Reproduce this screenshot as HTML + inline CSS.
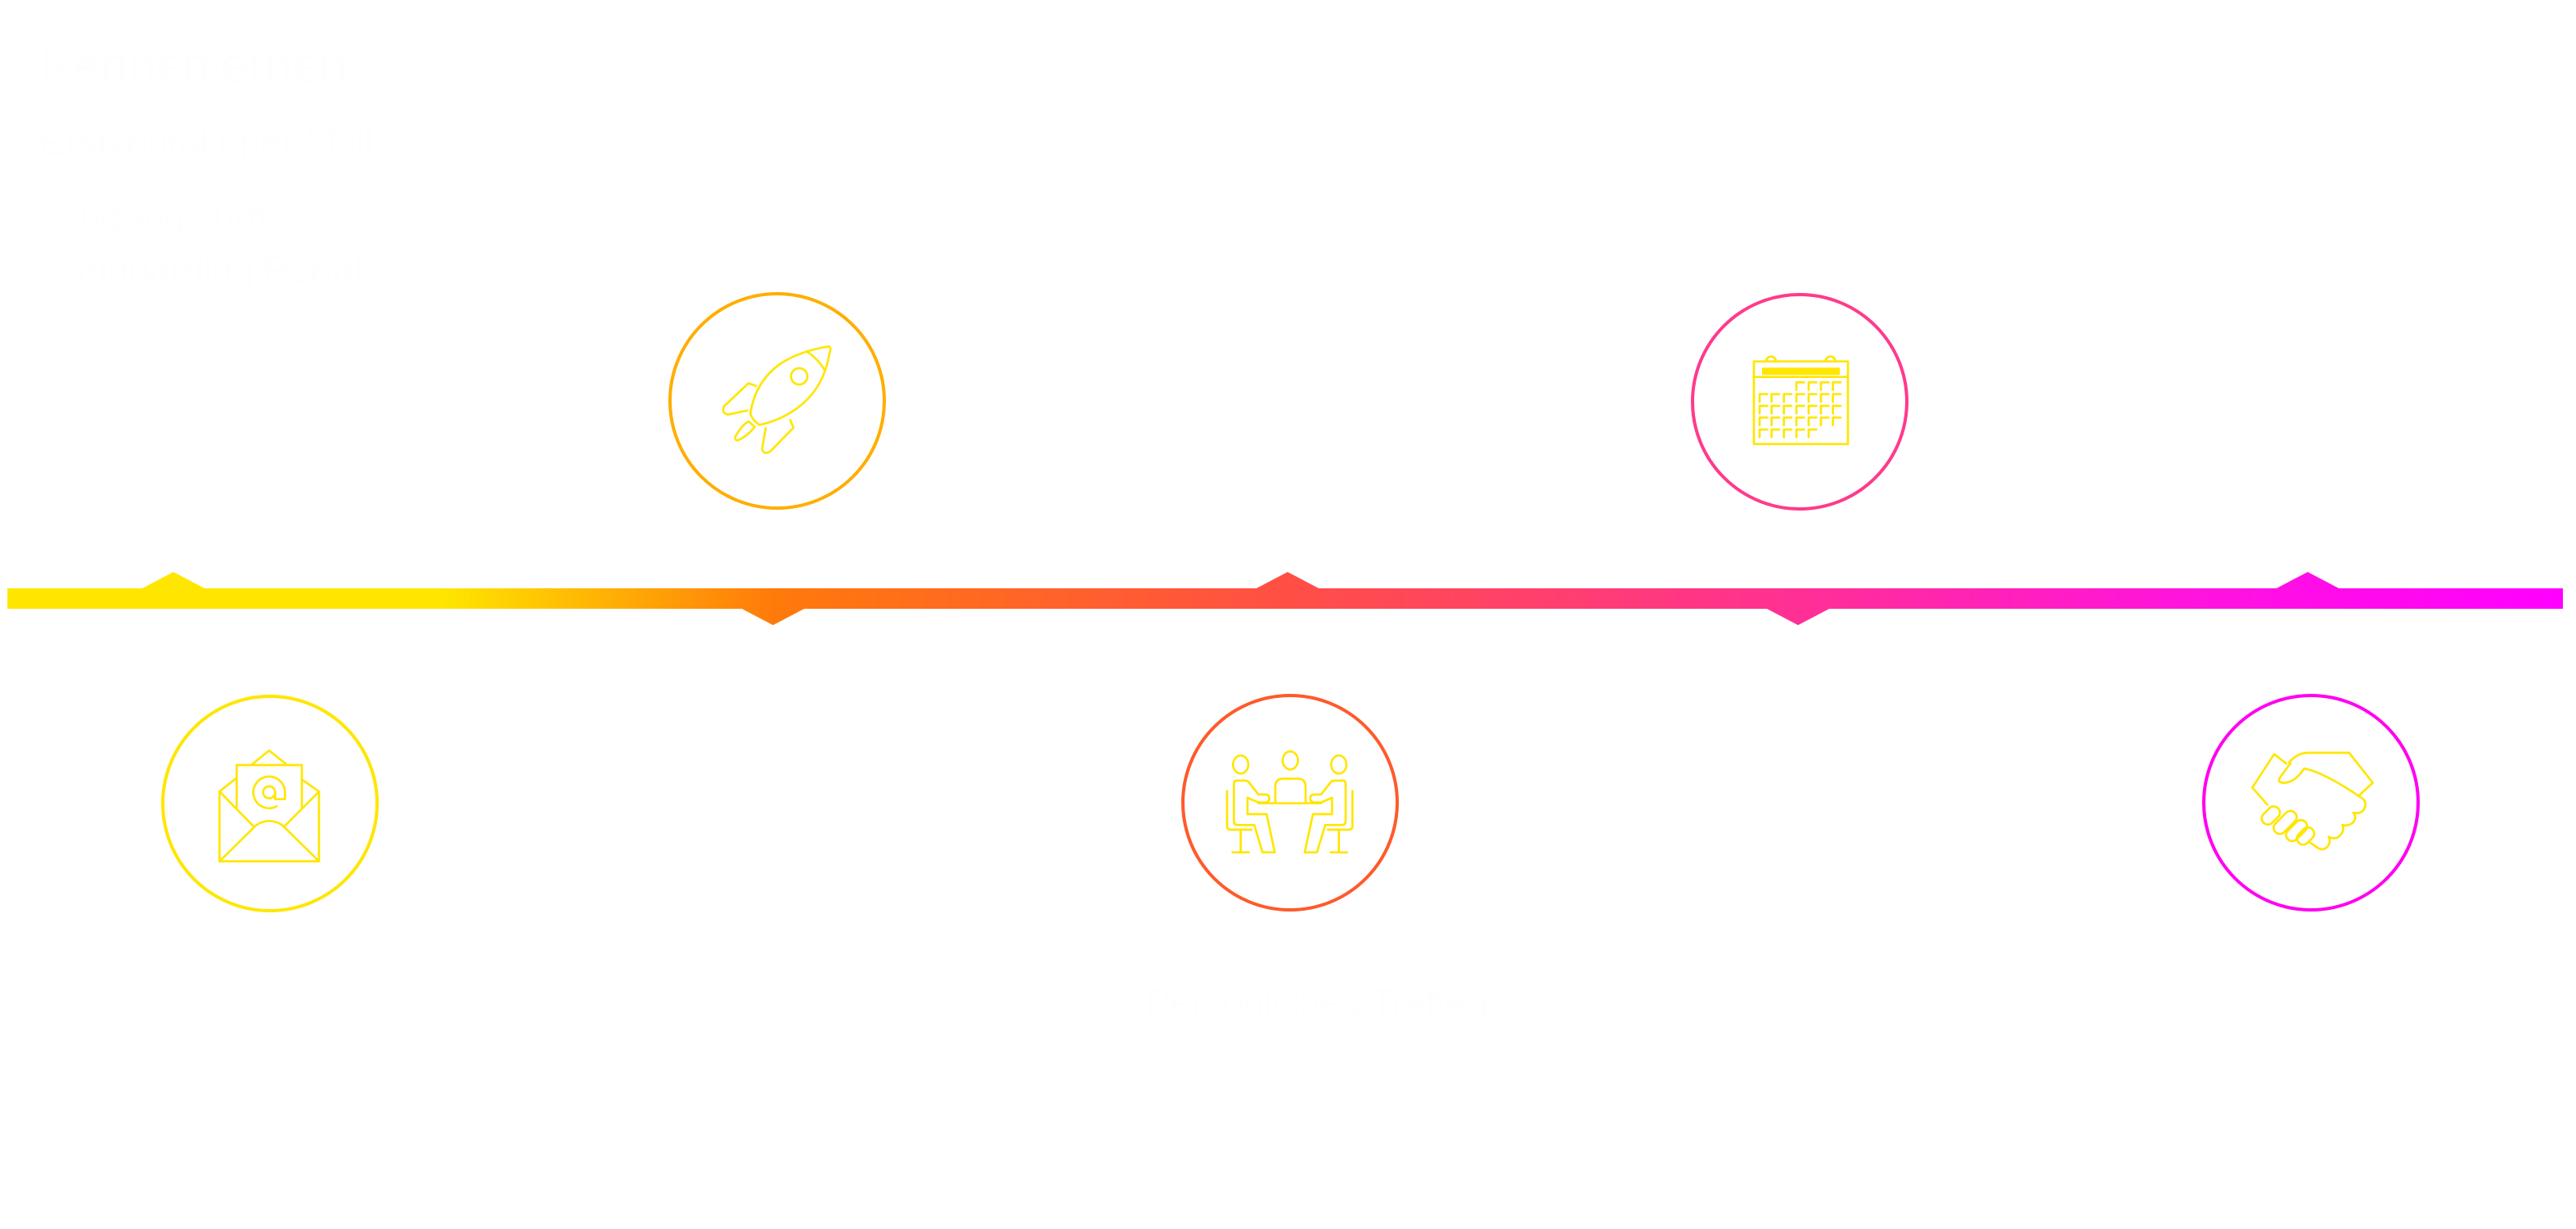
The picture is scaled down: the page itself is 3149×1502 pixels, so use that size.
<!DOCTYPE html>
<html><head><meta charset="utf-8"><style>
html,body{margin:0;padding:0;background:#fff;width:3149px;height:1502px;overflow:hidden}
svg{display:block}
.i{fill:none;stroke:#FFE600;stroke-width:8;stroke-linejoin:round;stroke-linecap:round}
</style></head><body>
<svg width="3149" height="1502" viewBox="0 0 3149 1502" xmlns="http://www.w3.org/2000/svg">
<defs>
<linearGradient id="g" x1="9" y1="0" x2="3133" y2="0" gradientUnits="userSpaceOnUse">
<stop offset="0" stop-color="#FFE600"/>
<stop offset="0.17" stop-color="#FFE600"/>
<stop offset="0.3" stop-color="#FF7A0A"/>
<stop offset="0.5" stop-color="#FF4F45"/>
<stop offset="0.7" stop-color="#FF3094"/>
<stop offset="0.85" stop-color="#FF14DC"/>
<stop offset="1" stop-color="#FF00FF"/>
</linearGradient>
</defs>
<g fill="url(#g)">
<rect x="9" y="719" width="3124" height="25"/>
<polygon points="172,720 212,699 252,720"/>
<polygon points="1534,720 1574,699 1614,720"/>
<polygon points="2781,720 2821,699 2861,720"/>
<polygon points="905,743 945,764 985,743"/>
<polygon points="2158,743 2198,764 2238,743"/>
</g>
<g fill="none" stroke-width="4">
<circle cx="950" cy="490" r="131" stroke="#FFAE00"/>
<circle cx="2200" cy="491" r="131" stroke="#FF3A8C"/>
<circle cx="330" cy="982" r="131" stroke="#FFE600"/>
<circle cx="1577" cy="981" r="131" stroke="#FF5A2A"/>
<circle cx="2825" cy="981" r="131" stroke="#FF00F0"/>
</g>
<!-- rocket -->
<g transform="translate(800,340) scale(0.3333)" class="i">
<path d="M385,538 Q355,515 352,495 Q370,380 460,315 Q530,268 640,250 Q650,255 642,275 Q625,380 560,445 Q490,515 385,538 Z"/>
<path d="M558,268 Q600,295 625,338"/>
<circle cx="531" cy="360" r="30"/>
<path d="M372,395 L345,385 L255,470 Q245,495 270,500 L340,485"/>
<path d="M498,520 L510,548 L425,635 Q400,650 395,625 L408,550"/>
<path d="M345,525 L368,545 Q340,580 305,595 Q290,592 300,575 Q320,540 345,525 Z"/>
</g>
<!-- email -->
<g transform="translate(180,830) scale(0.3333)" class="i">
<path d="M265,412 L265,668 L630,668 L630,412"/>
<path d="M265,412 L328,362 M630,412 L567,368 M385,312 L447,262 L510,312"/>
<path d="M328,470 L328,315 L567,315 L567,470"/>
<path d="M265,412 L390,540 M630,412 L503,540"/>
<path d="M265,668 L400,535 Q447,505 495,535 L630,668"/>
<circle cx="447" cy="415" r="22"/>
<path d="M469,415 L469,440 L505,440 L505,415 A58,58 0 1 0 475,466"/>
</g>
<!-- calendar -->
<g transform="translate(2050,360) scale(0.3333)">
<g class="i">
<rect x="282" y="245" width="345" height="303"/>
<path d="M282,302 L627,302"/>
<path d="M327,245 A18,18 0 0 1 363,245 M545,245 A18,18 0 0 1 581,245"/>
<path d="M438,350 L438,322 L466,322 M483,350 L483,322 L511,322 M528,350 L528,322 L556,322 M572,350 L572,322 L600,322"/>
<path d="M303,393 L303,365 L331,365 M347,393 L347,365 L375,365 M392,393 L392,365 L420,365 M438,393 L438,365 L466,365 M483,393 L483,365 L511,365 M528,393 L528,365 L556,365 M572,393 L572,365 L600,365"/>
<path d="M303,436 L303,408 L331,408 M347,436 L347,408 L375,408 M392,436 L392,408 L420,408 M438,436 L438,408 L466,408 M483,436 L483,408 L511,408 M528,436 L528,408 L556,408 M572,436 L572,408 L600,408"/>
<path d="M303,479 L303,451 L331,451 M347,479 L347,451 L375,451 M392,479 L392,451 L420,451 M438,479 L438,451 L466,451 M483,479 L483,451 L511,451 M528,479 L528,451 L556,451 M572,479 L572,451 L600,451"/>
<path d="M303,523 L303,495 L331,495 M347,523 L347,495 L375,495 M392,523 L392,495 L420,495 M438,523 L438,495 L466,495 M483,523 L483,495 L511,495"/>
</g>
<rect x="312" y="268" width="285" height="27" fill="#FFE600"/>
</g>
<!-- people -->
<g transform="translate(1480,900) scale(0.3333)" class="i">
<ellipse cx="110" cy="103" rx="28" ry="33"/>
<ellipse cx="292" cy="88" rx="28" ry="33"/>
<ellipse cx="470" cy="103" rx="28" ry="33"/>
<path d="M237,245 L237,185 Q237,155 265,155 L320,155 Q348,155 348,185 L348,245"/>
<path d="M175,245 L405,245"/>
<g id="lp">
<path d="M85,175 L85,310 Q85,325 100,325 L160,325 L190,425 L235,425 L205,285 L135,285 L135,225 L175,242 L200,242 Q215,240 215,228 Q215,213 200,213 L175,213 L140,168 Q135,162 125,162 L95,162 Q85,162 85,175 Z"/>
<path d="M60,200 L60,330 Q60,342 75,342 L150,342 M110,342 L110,425 M80,425 L140,425"/>
</g>
<use href="#lp" transform="translate(580,0) scale(-1,1)"/>
</g>
<!-- handshake -->
<g transform="translate(2730,900) scale(0.3333)" class="i">
<path d="M150,65 L70,188 L125,250 M150,65 L195,100"/>
<path d="M205,95 Q235,62 270,60 L425,60 L512,170 L460,218"/>
<path d="M260,118 Q225,170 185,170 Q160,170 172,150 L210,98"/>
<path d="M260,118 Q330,130 470,225 Q495,240 478,270 Q465,285 440,280 Q455,295 440,315 Q425,330 400,325 Q410,345 390,365 Q375,380 350,368 Q360,385 345,405 Q330,420 312,410 L283,390"/>
<rect x="100" y="268" width="75" height="45" rx="22" transform="rotate(-45 137 290)"/>
<rect x="140" y="293" width="100" height="45" rx="22" transform="rotate(-45 190 315)"/>
<rect x="187" y="323" width="90" height="45" rx="22" transform="rotate(-45 232 345)"/>
<rect x="230" y="343" width="70" height="45" rx="22" transform="rotate(-45 265 365)"/>
</g>
<g font-family="Liberation Sans, sans-serif" fill="#fefefe">
<text x="50" y="100" font-size="60">Kennenlernen</text>
<text x="50" y="190" font-size="46">Erstkontakt per Mail</text>
<text x="70" y="280" font-size="46">Zugang zum</text>
<text x="70" y="345" font-size="46">Onboarding Portal</text>
<text x="1400" y="1240" font-size="46">Persönliches Treffen</text>
</g>
</svg>
</body></html>
